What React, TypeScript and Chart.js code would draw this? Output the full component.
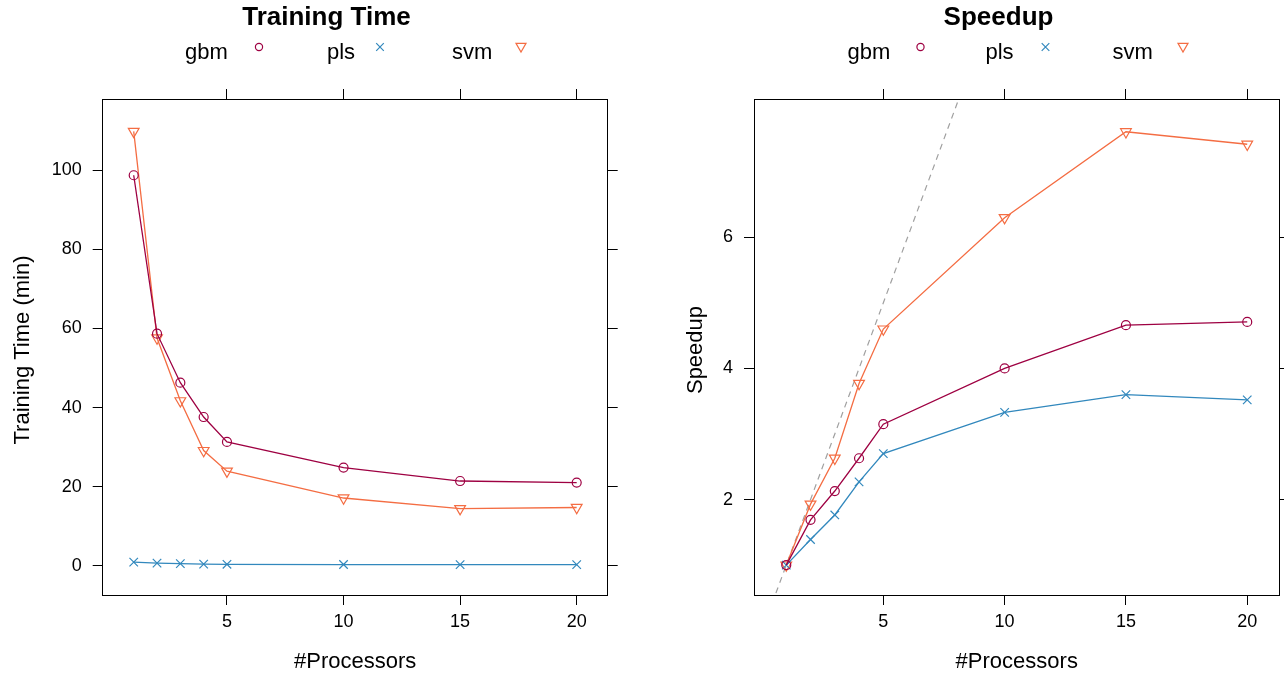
import React, { useEffect, useRef } from 'react';
import { Chart, registerables } from 'chart.js';

Chart.register(...registerables);

const FONT = "'Liberation Sans', Arial, Helvetica, sans-serif";

const processors = [1, 2, 3, 4, 5, 10, 15, 20];
const gbmTime = [98.8, 58.7, 46.3, 37.6, 31.3, 24.8, 21.4, 21.0];
const plsTime = [0.86, 0.62, 0.49, 0.38, 0.32, 0.26, 0.24, 0.245];
const svmTime = [109.9, 57.6, 41.7, 29.1, 23.9, 17.1, 14.4, 14.7];
const gbmSpeedup = [1, 1.69, 2.13, 2.63, 3.15, 4.0, 4.66, 4.71];
const plsSpeedup = [1, 1.39, 1.765, 2.27, 2.7, 3.33, 3.6, 3.52];
const svmSpeedup = [1, 1.93, 2.63, 3.77, 4.6, 6.3, 7.61, 7.42];
const xTicks = [5, 10, 15, 20];
const timeTicks = [0, 20, 40, 60, 80, 100];
const speedupTicks = [2, 4, 6];
const identityLine = [-1, 25];
const seriesNames = ['gbm', 'pls', 'svm'];
const seriesColors = ['#9E0142', '#3288BD', '#F46D43'];

const W = 642;
const H = 673;

function pts(xs: number[], ys: number[]) {
  return xs.map((x, i) => ({ x, y: ys[i] }));
}

function seriesDatasets(values: number[][]) {
  const styles: any[] = [
    { pointStyle: 'circle', pointRadius: 4.5, pointRotation: 0 },
    { pointStyle: 'crossRot', pointRadius: 6, pointRotation: 0 },
    { pointStyle: 'triangle', pointRadius: 6.2, pointRotation: 180 },
  ];
  return values.map((v, i) => ({
    label: seriesNames[i],
    data: pts(processors, v),
    borderColor: seriesColors[i],
    backgroundColor: 'rgba(0,0,0,0)',
    pointBackgroundColor: 'rgba(0,0,0,0)',
    pointBorderColor: seriesColors[i],
    pointBorderWidth: 1.2,
    pointHoverRadius: styles[i].pointRadius,
    borderWidth: 1.3,
    tension: 0,
    ...styles[i],
  }));
}

function drawMarker(ctx: CanvasRenderingContext2D, kind: number, x: number, y: number) {
  ctx.save();
  ctx.strokeStyle = seriesColors[kind];
  ctx.lineWidth = 1.2;
  ctx.beginPath();
  if (kind === 0) {
    ctx.arc(x, y, 3.6, 0, Math.PI * 2);
  } else if (kind === 1) {
    ctx.moveTo(x - 3.8, y - 3.8);
    ctx.lineTo(x + 3.8, y + 3.8);
    ctx.moveTo(x + 3.8, y - 3.8);
    ctx.lineTo(x - 3.8, y + 3.8);
  } else {
    ctx.moveTo(x - 5, y - 3.6);
    ctx.lineTo(x + 5, y - 3.6);
    ctx.lineTo(x, y + 5);
    ctx.closePath();
  }
  ctx.stroke();
  ctx.restore();
}

type PanelCfg = {
  title: string;
  titleX: number;
  ylabel: string;
  ylabelX: number;
  legendText: number[];
  legendMarker: number[];
  yMin: number;
  yMax: number;
  yTicks: number[];
  leftW: number;
  rightW: number;
  datasets: any[];
};

function textPlugin(p: PanelCfg) {
  return {
    id: 'panelText',
    afterDraw(chart: any) {
      const ctx = chart.ctx as CanvasRenderingContext2D;
      const ca = chart.chartArea;
      ctx.save();
      ctx.fillStyle = '#000';
      ctx.textBaseline = 'alphabetic';
      ctx.textAlign = 'center';
      ctx.font = `bold 26px ${FONT}`;
      ctx.fillText(p.title, p.titleX, 25);
      ctx.font = `22px ${FONT}`;
      ctx.textAlign = 'left';
      p.legendText.forEach((x, i) => {
        ctx.fillText(seriesNames[i], x, 58.7);
        drawMarker(ctx, i, p.legendMarker[i], 47);
      });
      ctx.textAlign = 'center';
      ctx.fillText('#Processors', (ca.left + ca.right) / 2, 668);
      ctx.translate(p.ylabelX, (ca.top + ca.bottom) / 2 + 3);
      ctx.rotate(-Math.PI / 2);
      ctx.fillText(p.ylabel, 0, 0);
      ctx.restore();
    },
  };
}

function axisCommon(showLabels: boolean, padding: number) {
  return {
    grid: {
      display: true,
      drawOnChartArea: false,
      drawTicks: true,
      tickLength: 10,
      color: '#000',
      lineWidth: 1,
    },
    border: { display: true, color: '#000', width: 1 },
    ticks: {
      color: showLabels ? '#000' : 'rgba(0,0,0,0)',
      font: { family: FONT, size: 18 },
      padding,
      maxRotation: 0,
      minRotation: 0,
      autoSkip: false,
    },
  };
}

function buildConfig(p: PanelCfg): any {
  const setTicks = (vals: number[]) => (scale: any) => {
    scale.ticks = vals.map((v) => ({ value: v }));
  };
  return {
    type: 'line',
    data: { datasets: p.datasets },
    options: {
      responsive: false,
      animation: false,
      devicePixelRatio: 1,
      layout: { padding: 0, autoPadding: false },
      plugins: {
        legend: { display: false },
        title: { display: false },
        tooltip: { enabled: false },
      },
      scales: {
        x: {
          type: 'linear',
          position: 'bottom',
          min: -0.33,
          max: 21.33,
          afterBuildTicks: setTicks(xTicks),
          afterFit: (s: any) => { s.height = H - 595; },
          ...axisCommon(true, 6),
        },
        x2: {
          type: 'linear',
          position: 'top',
          min: -0.33,
          max: 21.33,
          afterBuildTicks: setTicks(xTicks),
          afterFit: (s: any) => { s.height = 99; },
          ...axisCommon(false, 4),
        },
        y: {
          type: 'linear',
          position: 'left',
          min: p.yMin,
          max: p.yMax,
          afterBuildTicks: setTicks(p.yTicks),
          afterFit: (s: any) => { s.width = p.leftW; },
          ...axisCommon(true, 11),
        },
        y2: {
          type: 'linear',
          position: 'right',
          min: p.yMin,
          max: p.yMax,
          afterBuildTicks: setTicks(p.yTicks),
          afterFit: (s: any) => { s.width = p.rightW; },
          ...axisCommon(false, 4),
        },
      },
    },
    plugins: [textPlugin(p)],
  };
}

const timePanel: PanelCfg = {
  title: 'Training Time',
  titleX: 326.5,
  ylabel: 'Training Time (min)',
  ylabelX: 29,
  legendText: [185, 327, 452],
  legendMarker: [259, 380, 521],
  yMin: -7.45,
  yMax: 118.1,
  yTicks: timeTicks,
  leftW: 102.7,
  rightW: W - 607.7,
  datasets: seriesDatasets([gbmTime, plsTime, svmTime]),
};

const speedupPanel: PanelCfg = {
  title: 'Speedup',
  titleX: 356.5,
  ylabel: 'Speedup',
  ylabelX: 60,
  legendText: [205.5, 343.5, 470.5],
  legendMarker: [278.5, 403.5, 541],
  yMin: 0.544,
  yMax: 8.11,
  yTicks: speedupTicks,
  leftW: 754 - W,
  rightW: W - (1279.5 - W),
  datasets: [
    ...seriesDatasets([gbmSpeedup, plsSpeedup, svmSpeedup]),
    {
      label: 'identity',
      data: identityLine.map((v) => ({ x: v, y: v })),
      borderColor: '#A0A0A0',
      borderWidth: 1.2,
      borderDash: [6, 5],
      pointRadius: 0,
      tension: 0,
    },
  ],
};

function Panel({ cfg, left }: { cfg: PanelCfg; left: number }) {
  const ref = useRef<HTMLCanvasElement | null>(null);
  useEffect(() => {
    if (!ref.current) return;
    const chart = new Chart(ref.current, buildConfig(cfg));
    return () => chart.destroy();
  }, [cfg]);
  return (
    <canvas
      ref={ref}
      width={W}
      height={H}
      style={{ position: 'absolute', left, top: 0, width: W, height: H }}
    />
  );
}

export default function App() {
  return (
    <div
      style={{
        position: 'absolute',
        left: 0,
        top: 0,
        width: 1284,
        height: 673,
        background: '#fff',
        overflow: 'hidden',
      }}
    >
      <Panel cfg={timePanel} left={0} />
      <Panel cfg={speedupPanel} left={W} />
    </div>
  );
}
